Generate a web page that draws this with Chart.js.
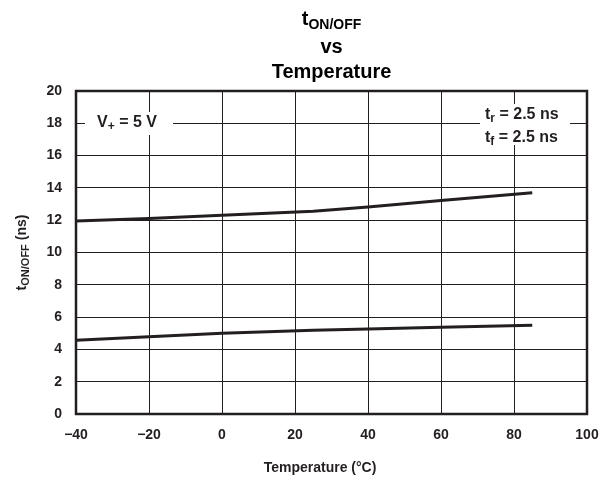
<!DOCTYPE html>
<html>
<head>
<meta charset="utf-8">
<script src="https://cdn.jsdelivr.net/npm/chart.js@4.4.1/dist/chart.umd.min.js"></script>
<style>
  html, body { margin: 0; padding: 0; background: #fff; }
  #wrap { width: 600px; height: 477px; }
</style>
</head>
<body>
<div id="wrap"><canvas id="chart" width="600" height="477"></canvas></div>
<script>
// values
const temps = [-40, -20, 0, 25, 40, 60, 85];
const tOnOffHigh = [11.95, 12.1, 12.3, 12.55, 12.82, 13.22, 13.7];
const tOnOffLow = [4.56, 4.79, 5.0, 5.18, 5.27, 5.37, 5.49];
const xTicks = [-40, -20, 0, 20, 40, 60, 80, 100];
const yTicks = [0, 2, 4, 6, 8, 10, 12, 14, 16, 18, 20];

const INK = '#231f20';
const FAM = '"Liberation Sans", Arial, sans-serif';

function toPts(xs, ys) {
    return xs.map((x, i) => ({ x: x, y: ys[i] }));
}

// draw text with a subscript part: parts = [[text, size, dy], ...]
function drawParts(ctx, parts, x, y, align) {
    let total = 0;
    parts.forEach(p => {
        ctx.font = 'bold ' + p[1] + 'px ' + FAM;
        total += ctx.measureText(p[0]).width;
    });
    let cx = align === 'center' ? x - total / 2 : x;
    ctx.textAlign = 'left';
    ctx.textBaseline = 'alphabetic';
    parts.forEach(p => {
        ctx.font = 'bold ' + p[1] + 'px ' + FAM;
        ctx.fillText(p[0], cx, y + p[2]);
        cx += ctx.measureText(p[0]).width;
    });
}

const decor = {
    id: 'decor',
    beforeDatasetsDraw(chart) {
        const ctx = chart.ctx;
        ctx.save();
        ctx.fillStyle = '#fff';
        // white patches behind the notes
        ctx.fillRect(85, 112, 88, 23);
        ctx.fillRect(480, 104, 90, 41);
        ctx.fillStyle = INK;
        drawParts(ctx, [['V', 16, 0], ['+', 12, 3], [' = 5 V', 16, 0]], 97, 127, 'left');
        drawParts(ctx, [['t', 16, 0], ['r', 12, 3], [' = 2.5 ns', 16, 0]], 485, 119, 'left');
        drawParts(ctx, [['t', 16, 0], ['f', 12, 3], [' = 2.5 ns', 16, 0]], 485, 142, 'left');
        ctx.restore();
    },
    afterDraw(chart) {
        const ctx = chart.ctx;
        const a = chart.chartArea;
        ctx.save();
        ctx.strokeStyle = INK;
        ctx.lineWidth = 2.5;
        ctx.strokeRect(a.left, a.top, a.right - a.left, a.bottom - a.top);

        ctx.fillStyle = '#000';
        const cx = (a.left + a.right) / 2;
        drawParts(ctx, [['t', 20, 0], ['ON/OFF', 14, 4]], cx, 25, 'center');
        drawParts(ctx, [['vs', 20, 0]], cx, 53, 'center');
        drawParts(ctx, [['Temperature', 20, 0]], cx, 78, 'center');

        ctx.fillStyle = INK;
        drawParts(ctx, [['Temperature (°C)', 14, 0]], 320, 472, 'center');

        ctx.translate(26, (a.top + a.bottom) / 2);
        ctx.rotate(-Math.PI / 2);
        drawParts(ctx, [['t', 14, 0], ['ON/OFF', 11, 3], [' (ns)', 14, 0]], 0, 0, 'center');
        ctx.restore();
    }
};

const ctx = document.getElementById('chart').getContext('2d');
new Chart(ctx, {
    type: 'line',
    data: {
        datasets: [
            { data: toPts(temps, tOnOffHigh), borderColor: INK, borderWidth: 3, pointRadius: 0, tension: 0 },
            { data: toPts(temps, tOnOffLow), borderColor: INK, borderWidth: 3, pointRadius: 0, tension: 0 }
        ]
    },
    options: {
        responsive: false,
        animation: false,
        layout: { padding: { top: 91, right: 13, left: 0, bottom: 0 } },
        plugins: { legend: { display: false }, tooltip: { enabled: false }, title: { display: false } },
        scales: {
            x: {
                type: 'linear',
                min: -40, max: 100,
                afterFit(s) { s.height = 63; s.paddingLeft = 0; s.paddingRight = 0; },
                afterBuildTicks(s) { s.ticks = xTicks.map(v => ({ value: v })); },
                grid: { color: INK, lineWidth: 1, drawTicks: false },
                border: { display: false },
                ticks: {
                    padding: 13,
                    color: INK,
                    font: { family: FAM, size: 14, weight: 'bold' },
                    callback: v => v < 0 ? '\u2212' + Math.abs(v) : String(v)
                }
            },
            y: {
                min: 0, max: 20,
                afterFit(s) { s.width = 76; s.paddingTop = 0; s.paddingBottom = 0; },
                afterBuildTicks(s) { s.ticks = yTicks.map(v => ({ value: v })); },
                grid: { color: INK, lineWidth: 1, drawTicks: false },
                border: { display: false },
                ticks: {
                    padding: 14,
                    color: INK,
                    font: { family: FAM, size: 14, weight: 'bold' }
                }
            }
        }
    },
    plugins: [decor]
});
</script>
</body>
</html>
